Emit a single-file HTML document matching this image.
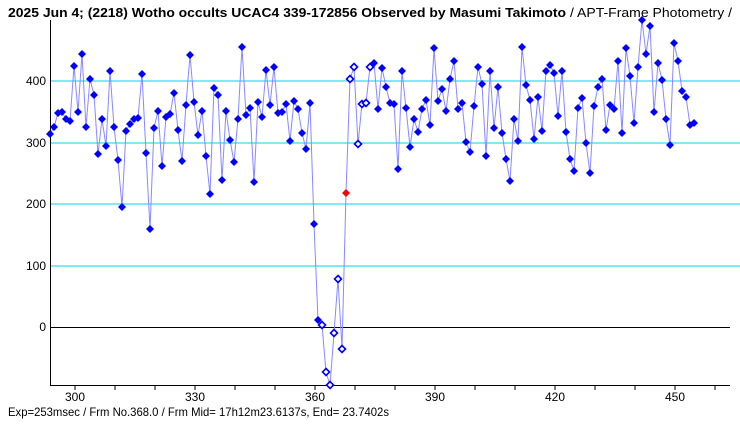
<!DOCTYPE html>
<html><head><meta charset="utf-8"><style>
html,body{margin:0;padding:0;background:#fff;}
svg{display:block;}
text{font-family:"Liberation Sans","Noto Sans CJK JP",sans-serif;}
</style></head><body>
<svg width="740" height="425" viewBox="0 0 740 425" xmlns="http://www.w3.org/2000/svg" xmlns:xlink="http://www.w3.org/1999/xlink">
<defs>
<path id="d" d="M0,-4 L4,0 L0,4 L-4,0 Z" fill="#0000ff"/>
<path id="h" d="M0,-3.5 L3.5,0 L0,3.5 L-3.5,0 Z" fill="#fff" stroke="#0000ff" stroke-width="1.6"/>
<path id="r" d="M0,-4 L4,0 L0,4 L-4,0 Z" fill="#ff0000"/>
</defs>
<text x="8" y="17" font-size="13" font-weight="bold" textLength="558" lengthAdjust="spacingAndGlyphs">2025 Jun 4; (2218) Wotho occults UCAC4 339-172856 Observed by Masumi Takimoto</text>
<text x="570" y="17" font-size="13" textLength="162" lengthAdjust="spacingAndGlyphs">/ APT-Frame Photometry /</text>
<g stroke="#33ddee" stroke-width="1.2">
<line x1="50" y1="81" x2="740" y2="81"/>
<line x1="50" y1="143" x2="740" y2="143"/>
<line x1="50" y1="204" x2="740" y2="204"/>
<line x1="50" y1="266" x2="740" y2="266"/>
</g>
<line x1="50" y1="327.5" x2="730" y2="327.5" stroke="#000" stroke-width="1"/>
<line x1="50.5" y1="20" x2="50.5" y2="386" stroke="#000" stroke-width="1"/>
<line x1="50" y1="385.5" x2="730" y2="385.5" stroke="#000" stroke-width="1"/>
<g stroke="#000" stroke-width="1">
<line x1="75" y1="385" x2="75" y2="390"/><line x1="115" y1="385" x2="115" y2="390"/><line x1="155" y1="385" x2="155" y2="390"/><line x1="195" y1="385" x2="195" y2="390"/><line x1="235" y1="385" x2="235" y2="390"/><line x1="275" y1="385" x2="275" y2="390"/><line x1="315" y1="385" x2="315" y2="390"/><line x1="355" y1="385" x2="355" y2="390"/><line x1="395" y1="385" x2="395" y2="390"/><line x1="435" y1="385" x2="435" y2="390"/><line x1="475" y1="385" x2="475" y2="390"/><line x1="515" y1="385" x2="515" y2="390"/><line x1="555" y1="385" x2="555" y2="390"/><line x1="595" y1="385" x2="595" y2="390"/><line x1="635" y1="385" x2="635" y2="390"/><line x1="675" y1="385" x2="675" y2="390"/><line x1="715" y1="385" x2="715" y2="390"/>
</g>
<g font-size="12" text-anchor="middle">
<text x="75" y="401">300</text><text x="195" y="401">330</text><text x="315" y="401">360</text><text x="435" y="401">390</text><text x="555" y="401">420</text><text x="675" y="401">450</text>
</g>
<g font-size="12" text-anchor="end">
<text x="46" y="85">400</text><text x="46" y="147">300</text><text x="46" y="208">200</text><text x="46" y="270">100</text><text x="46" y="331">0</text>
</g>
<text x="8" y="416" font-size="12" textLength="381" lengthAdjust="spacingAndGlyphs">Exp=253msec / Frm No.368.0 / Frm Mid= 17h12m23.6137s,  End= 23.7402s</text>
<polyline fill="none" stroke="#8888ff" stroke-width="1" points="50,134 54,127 58,113 62,112 66,119 70,121 74,66 78,112 82,54 86,127 90,79 94,95 98,154 102,119 106,146 110,71 114,127 118,160 122,207 126,131 130,124 134,119 138,118 142,74 146,153 150,229 154,128 158,111 162,166 166,117 170,114 174,93 178,130 182,161 186,105 190,55 194,102 198,135 202,111 206,156 210,194 214,88 218,95 222,180 226,111 230,140 234,162 238,119 242,47 246,115 250,108 254,182 258,102 262,117 266,70 270,105 274,67 278,113 282,112 286,104 290,141 294,101 298,109 302,133 306,149 310,103 314,224 318,320 322,325 326,372 330,385 334,333 338,279 342,349 346,193 350,79 354,67 358,144 362,104 366,103 370,67 374,63 378,109 382,68 386,87 390,103 394,104 398,169 402,71 406,108 410,147 414,119 418,132 422,109 426,100 430,125 434,48 438,101 442,89 446,111 450,79 454,61 458,109 462,103 466,142 470,152 474,106 478,67 482,84 486,156 490,71 494,128 498,87 502,133 506,159 510,181 514,119 518,141 522,47 526,85 530,100 534,139 538,97 542,131 546,71 550,65 554,73 558,116 562,71 566,132 570,159 574,171 578,108 582,98 586,143 590,173 594,106 598,87 602,79 606,130 610,105 614,109 618,61 622,133 626,48 630,76 634,123 638,67 642,20 646,54 650,26 654,112 658,63 662,80 666,119 670,145 674,43 678,61 682,91 686,97 690,125 694,123"/>
<g>
<use href="#d" x="50" y="134"/><use href="#d" x="54" y="127"/><use href="#d" x="58" y="113"/><use href="#d" x="62" y="112"/><use href="#d" x="66" y="119"/><use href="#d" x="70" y="121"/><use href="#d" x="74" y="66"/><use href="#d" x="78" y="112"/><use href="#d" x="82" y="54"/><use href="#d" x="86" y="127"/><use href="#d" x="90" y="79"/><use href="#d" x="94" y="95"/><use href="#d" x="98" y="154"/><use href="#d" x="102" y="119"/><use href="#d" x="106" y="146"/><use href="#d" x="110" y="71"/><use href="#d" x="114" y="127"/><use href="#d" x="118" y="160"/><use href="#d" x="122" y="207"/><use href="#d" x="126" y="131"/><use href="#d" x="130" y="124"/><use href="#d" x="134" y="119"/><use href="#d" x="138" y="118"/><use href="#d" x="142" y="74"/><use href="#d" x="146" y="153"/><use href="#d" x="150" y="229"/><use href="#d" x="154" y="128"/><use href="#d" x="158" y="111"/><use href="#d" x="162" y="166"/><use href="#d" x="166" y="117"/><use href="#d" x="170" y="114"/><use href="#d" x="174" y="93"/><use href="#d" x="178" y="130"/><use href="#d" x="182" y="161"/><use href="#d" x="186" y="105"/><use href="#d" x="190" y="55"/><use href="#d" x="194" y="102"/><use href="#d" x="198" y="135"/><use href="#d" x="202" y="111"/><use href="#d" x="206" y="156"/><use href="#d" x="210" y="194"/><use href="#d" x="214" y="88"/><use href="#d" x="218" y="95"/><use href="#d" x="222" y="180"/><use href="#d" x="226" y="111"/><use href="#d" x="230" y="140"/><use href="#d" x="234" y="162"/><use href="#d" x="238" y="119"/><use href="#d" x="242" y="47"/><use href="#d" x="246" y="115"/><use href="#d" x="250" y="108"/><use href="#d" x="254" y="182"/><use href="#d" x="258" y="102"/><use href="#d" x="262" y="117"/><use href="#d" x="266" y="70"/><use href="#d" x="270" y="105"/><use href="#d" x="274" y="67"/><use href="#d" x="278" y="113"/><use href="#d" x="282" y="112"/><use href="#d" x="286" y="104"/><use href="#d" x="290" y="141"/><use href="#d" x="294" y="101"/><use href="#d" x="298" y="109"/><use href="#d" x="302" y="133"/><use href="#d" x="306" y="149"/><use href="#d" x="310" y="103"/><use href="#d" x="314" y="224"/><use href="#d" x="318" y="320"/>
<use href="#h" x="322" y="325"/><use href="#h" x="326" y="372"/><use href="#h" x="330" y="385"/><use href="#h" x="334" y="333"/><use href="#h" x="338" y="279"/><use href="#h" x="342" y="349"/>
<use href="#r" x="346" y="193"/>
<use href="#h" x="350" y="79"/><use href="#h" x="354" y="67"/><use href="#h" x="358" y="144"/><use href="#h" x="362" y="104"/><use href="#h" x="366" y="103"/><use href="#h" x="370" y="67"/>
<use href="#d" x="374" y="63"/><use href="#d" x="378" y="109"/><use href="#d" x="382" y="68"/><use href="#d" x="386" y="87"/><use href="#d" x="390" y="103"/><use href="#d" x="394" y="104"/><use href="#d" x="398" y="169"/><use href="#d" x="402" y="71"/><use href="#d" x="406" y="108"/><use href="#d" x="410" y="147"/><use href="#d" x="414" y="119"/><use href="#d" x="418" y="132"/><use href="#d" x="422" y="109"/><use href="#d" x="426" y="100"/><use href="#d" x="430" y="125"/><use href="#d" x="434" y="48"/><use href="#d" x="438" y="101"/><use href="#d" x="442" y="89"/><use href="#d" x="446" y="111"/><use href="#d" x="450" y="79"/><use href="#d" x="454" y="61"/><use href="#d" x="458" y="109"/><use href="#d" x="462" y="103"/><use href="#d" x="466" y="142"/><use href="#d" x="470" y="152"/><use href="#d" x="474" y="106"/><use href="#d" x="478" y="67"/><use href="#d" x="482" y="84"/><use href="#d" x="486" y="156"/><use href="#d" x="490" y="71"/><use href="#d" x="494" y="128"/><use href="#d" x="498" y="87"/><use href="#d" x="502" y="133"/><use href="#d" x="506" y="159"/><use href="#d" x="510" y="181"/><use href="#d" x="514" y="119"/><use href="#d" x="518" y="141"/><use href="#d" x="522" y="47"/><use href="#d" x="526" y="85"/><use href="#d" x="530" y="100"/><use href="#d" x="534" y="139"/><use href="#d" x="538" y="97"/><use href="#d" x="542" y="131"/><use href="#d" x="546" y="71"/><use href="#d" x="550" y="65"/><use href="#d" x="554" y="73"/><use href="#d" x="558" y="116"/><use href="#d" x="562" y="71"/><use href="#d" x="566" y="132"/><use href="#d" x="570" y="159"/><use href="#d" x="574" y="171"/><use href="#d" x="578" y="108"/><use href="#d" x="582" y="98"/><use href="#d" x="586" y="143"/><use href="#d" x="590" y="173"/><use href="#d" x="594" y="106"/><use href="#d" x="598" y="87"/><use href="#d" x="602" y="79"/><use href="#d" x="606" y="130"/><use href="#d" x="610" y="105"/><use href="#d" x="614" y="109"/><use href="#d" x="618" y="61"/><use href="#d" x="622" y="133"/><use href="#d" x="626" y="48"/><use href="#d" x="630" y="76"/><use href="#d" x="634" y="123"/><use href="#d" x="638" y="67"/><use href="#d" x="642" y="20"/><use href="#d" x="646" y="54"/><use href="#d" x="650" y="26"/><use href="#d" x="654" y="112"/><use href="#d" x="658" y="63"/><use href="#d" x="662" y="80"/><use href="#d" x="666" y="119"/><use href="#d" x="670" y="145"/><use href="#d" x="674" y="43"/><use href="#d" x="678" y="61"/><use href="#d" x="682" y="91"/><use href="#d" x="686" y="97"/><use href="#d" x="690" y="125"/><use href="#d" x="694" y="123"/>
</g>
</svg>
</body></html>
